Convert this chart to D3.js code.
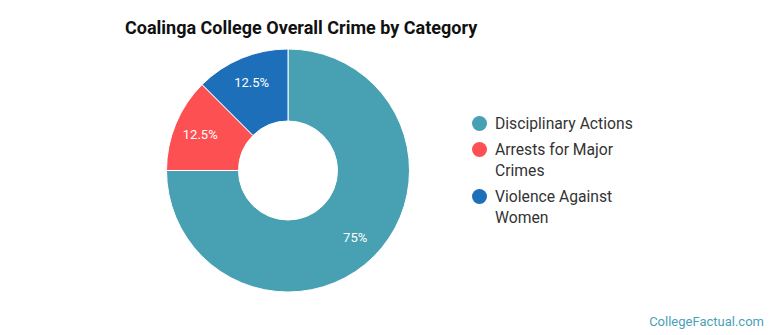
<!DOCTYPE html>
<html>
<head>
<meta charset="utf-8">
<script src="https://cdn.jsdelivr.net/npm/d3@7"></script>
<style>
  body { margin: 0; background: #fff; }
  text { font-family: Roboto, "Open Sans", sans-serif; }
</style>
</head>
<body>
<div id="chart"></div>
<script>
// Chart data
const categories = ["Disciplinary Actions", "Arrests for Major Crimes", "Violence Against Women"];
const values = [75, 12.5, 12.5];
const legendLines = [["Disciplinary Actions"], ["Arrests for Major", "Crimes"], ["Violence Against", "Women"]];
const colors = ["#48a0b3", "#fd5053", "#1e6fba"];

const width = 770;
const height = 335;

const svg = d3
  .select("#chart")
  .append("svg")
  .attr("width", width)
  .attr("height", height);

// Title
svg
  .append("text")
  .attr("x", 125)
  .attr("y", 34)
  .attr("font-size", 18)
  .attr("font-weight", "bold")
  .attr("fill", "#111")
  .text("Coalinga College Overall Crime by Category");

// Donut
const cx = 288;
const cy = 170.5;
const outerR = 121.5;
const innerR = 49.5;

const pie = d3.pie().sort(null).value((d) => d);
const arcs = pie(values);
const arc = d3.arc().innerRadius(innerR).outerRadius(outerR);
const labelArc = d3.arc().innerRadius(95).outerRadius(95);

const g = svg.append("g").attr("transform", `translate(${cx}, ${cy})`);

g.selectAll("path")
  .data(arcs)
  .enter()
  .append("path")
  .attr("d", arc)
  .attr("fill", (d, i) => colors[i])
  .attr("stroke", "#fff")
  .attr("stroke-width", 1);

g.selectAll("text.lbl")
  .data(arcs)
  .enter()
  .append("text")
  .attr("class", "lbl")
  .attr("transform", (d) => `translate(${labelArc.centroid(d)})`)
  .attr("text-anchor", "middle")
  .attr("dy", "0.35em")
  .attr("font-size", 13)
  .attr("fill", "#fff")
  .text((d) => d.data + "%");

// Legend
const legend = svg.append("g");
let ly = 123.5;
legendLines.forEach((lines, i) => {
  legend
    .append("circle")
    .attr("cx", 479.5)
    .attr("cy", ly)
    .attr("r", 7.5)
    .attr("fill", colors[i]);
  lines.forEach((line, j) => {
    legend
      .append("text")
      .attr("x", 495)
      .attr("y", ly + j * 21)
      .attr("dy", "0.35em")
      .attr("font-size", 15.7)
      .attr("fill", "#333")
      .text(line);
  });
  ly += (lines.length - 1) * 21 + 26;
});

// Footer credit
svg
  .append("text")
  .attr("x", 764)
  .attr("y", 326)
  .attr("text-anchor", "end")
  .attr("font-size", 13)
  .attr("fill", "#4a9fb5")
  .text("CollegeFactual.com");
</script>
</body>
</html>
